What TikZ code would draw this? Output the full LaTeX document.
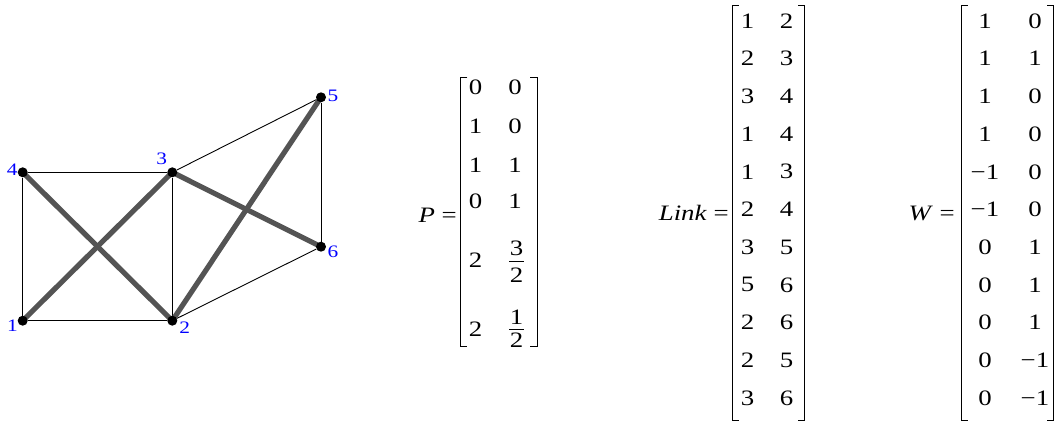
\documentclass[tikz,border=0pt]{standalone}
\usepackage{fontspec}
\setmainfont{Liberation Serif}[FakeStretch=1.22]
\usetikzlibrary{backgrounds}

\tikzset{
  vert/.style={circle,fill=black,inner sep=0pt,minimum size=10pt},
  vlabel/.style={text=blue,font=\fontsize{17.5}{17.5}\selectfont,inner sep=0pt},
  thinedge/.style={line width=0.9pt},
  thickedge/.style={line width=5.2pt,draw=black!67},
  entry/.style={font=\fontsize{22}{22}\selectfont,inner sep=0pt},
  bracket/.style={line width=0.9pt}
}

\begin{document}
\begin{tikzpicture}[x=1pt,y=-1pt]
\useasboundingbox (0,0) rectangle (1058,423);

% the truss: joints
\node[vert] (n1) at (22.7,320.7) {};
\node[vert] (n2) at (172.3,320.7) {};
\node[vert] (n3) at (172.3,172.3) {};
\node[vert] (n4) at (22.7,172.3) {};
\node[vert] (n5) at (321,97.3) {};
\node[vert] (n6) at (321,246.7) {};
\node[vlabel] (l1) at (12.5,326) {1};
\node[vlabel] (l2) at (184.7,328) {2};
\node[vlabel] (l3) at (161.7,158.3) {3};
\node[vlabel] (l4) at (12.3,170) {4};
\node[vlabel] (l5) at (333,95.5) {5};
\node[vlabel] (l6) at (333,251.7) {6};

% the bars
\begin{scope}[on background layer]
\draw[thinedge] (n1) -- (n2);
\draw[thinedge] (n2) -- (n3);
\draw[thinedge] (n3) -- (n4);
\draw[thinedge] (n1) -- (n4);
\draw[thinedge] (n3) -- (n5);
\draw[thinedge] (n5) -- (n6);
\draw[thinedge] (n2) -- (n6);
\draw[thickedge] (n1.center) -- (n3.center);
\draw[thickedge] (n2.center) -- (n4.center);
\draw[thickedge] (n2.center) -- (n5.center);
\draw[thickedge] (n3.center) -- (n6.center);
\end{scope}

% P
\node[entry,anchor=east] (Pname) at (457,215) {\textit{P} =};
\draw[bracket] (467.4,77.7) -- (460.7,77.7) -- (460.7,346.7) -- (467.4,346.7);
\draw[bracket] (530.3,77.7) -- (537,77.7) -- (537,346.7) -- (530.3,346.7);
\foreach \a/\b/\y [count=\i] in {0/0/87.5,1/0/126.7,1/1/165,0/1/201.7} {
  \node[entry] (P\i a) at (475.5,\y) {\a};
  \node[entry] (P\i b) at (515,\y) {\b};
}
\node[entry] (P5a) at (475.5,260) {2};
\node[entry] (P5n) at (516.5,248) {3};
\node[entry] (P5d) at (516.5,275) {2};
\draw[bracket] (509,261.7) -- (524,261.7);
\node[entry] (P6a) at (475.5,329) {2};
\node[entry] (P6n) at (516.5,317.5) {1};
\node[entry] (P6d) at (516.5,340) {2};
\draw[bracket] (509,329.5) -- (524,329.5);

% Link
\node[entry,anchor=east] (Lname) at (729,213) {\textit{Link} =};
\draw[bracket] (738.7,5) -- (732.7,5) -- (732.7,420) -- (738.7,420);
\draw[bracket] (798,5) -- (804,5) -- (804,420) -- (798,420);
\foreach \a/\b [count=\i] in {1/2,2/3,3/4,1/4,1/3,2/4,3/5,5/6,2/6,2/5,3/6} {
  \node[entry] (L\i a) at (747.7,{21+37.7*(\i-1)}) {\a};
  \node[entry] (L\i b) at (786.7,{21+37.7*(\i-1)}) {\b};
}

% W
\node[entry,anchor=east] (Wname) at (955,213) {\textit{W} =};
\draw[bracket] (967.7,5) -- (961.7,5) -- (961.7,420) -- (967.7,420);
\draw[bracket] (1047,5) -- (1053,5) -- (1053,420) -- (1047,420);
\foreach \a/\b [count=\i] in {1/0,1/1,1/0,1/0,−1/0,−1/0,0/1,0/1,0/1,0/−1,0/−1} {
  \node[entry] (W\i a) at (985,{21+37.7*(\i-1)}) {\a};
  \node[entry] (W\i b) at (1035,{21+37.7*(\i-1)}) {\b};
}
\end{tikzpicture}
\end{document}
